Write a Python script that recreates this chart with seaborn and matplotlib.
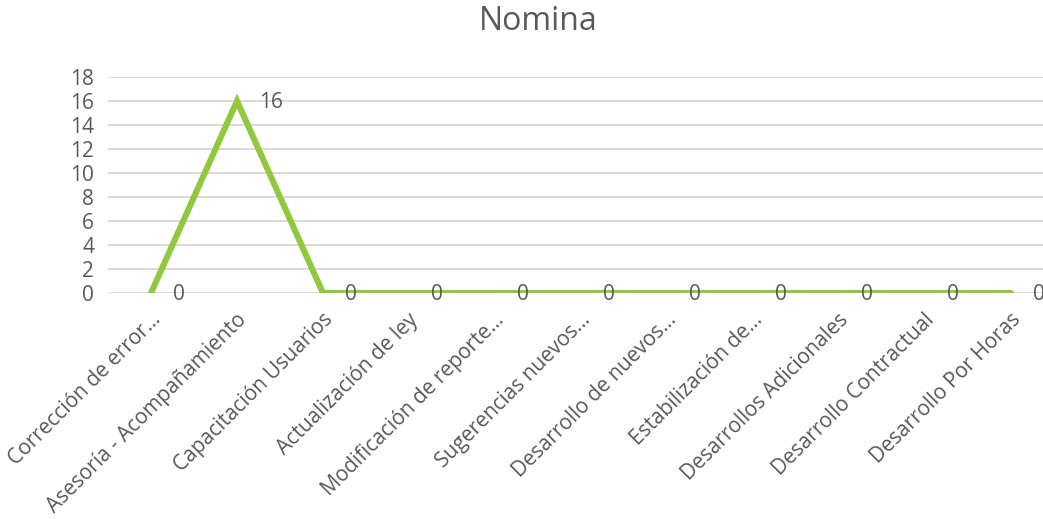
import matplotlib
matplotlib.use("Agg")
import matplotlib.pyplot as plt
import matplotlib.transforms as mtransforms
import seaborn as sns
import pandas as pd

categories = ["Corrección de error…", "Asesoría - Acompañamiento", "Capacitación Usuarios",
              "Actualización de ley", "Modificación de reporte…", "Sugerencias nuevos…",
              "Desarrollo de nuevos…", "Estabilización de…", "Desarrollos Adicionales",
              "Desarrollo Contractual", "Desarrollo Por Horas"]
values = [0, 16, 0, 0, 0, 0, 0, 0, 0, 0, 0]
yticks = list(range(0, 20, 2))

sns.set_theme(style="white")
plt.rcParams['font.family'] = ['Open Sans', 'DejaVu Sans']

TEXT = "#595959"
LINE = "#92C83E"
GRID = "#D9D9D9"

df = pd.DataFrame({"cat": categories, "x": range(len(categories)), "val": values})

fig = plt.figure(figsize=(10.43, 5.19), dpi=100)
W, H = 1043, 519
ax = fig.add_axes([108 / W, (H - 293) / H, (1054 - 108) / W, (293 - 77) / H])

sns.lineplot(data=df, x="x", y="val", ax=ax, color=LINE, linewidth=4.4,
             solid_capstyle="round", solid_joinstyle="miter")

ax.set_xlim(-0.5, len(categories) - 0.5)
ax.set_ylim(0, 18)
ax.set_yticks(yticks)
ax.set_yticklabels([str(t) for t in yticks], color=TEXT, fontsize=15)
ax.grid(axis="y", color=GRID, linewidth=1.4)
ax.set_axisbelow(True)
for s in ax.spines.values():
    s.set_visible(False)
ax.tick_params(axis="both", length=0, pad=6)
ax.tick_params(axis="y", pad=10)

ax.set_xticks(range(len(categories)))
ax.set_xticklabels(categories, rotation=45, ha="right", rotation_mode="anchor",
                   color=TEXT, fontsize=15)
offset = mtransforms.ScaledTranslation(-1 / 100, -8 / 100, fig.dpi_scale_trans)
for lab in ax.get_xticklabels():
    lab.set_transform(lab.get_transform() + offset)

ax.set_xlabel("")
ax.set_ylabel("")

for i, v in enumerate(values):
    ax.annotate(str(v), (i, v), xytext=(16, -1), textcoords="offset points",
                ha="left", va="center", color=TEXT, fontsize=15, annotation_clip=False)

fig.text(538 / W, 1 - 22 / H, "Nomina", ha="center", va="center", color=TEXT, fontsize=23)

fig.savefig("out.png", dpi=100)
